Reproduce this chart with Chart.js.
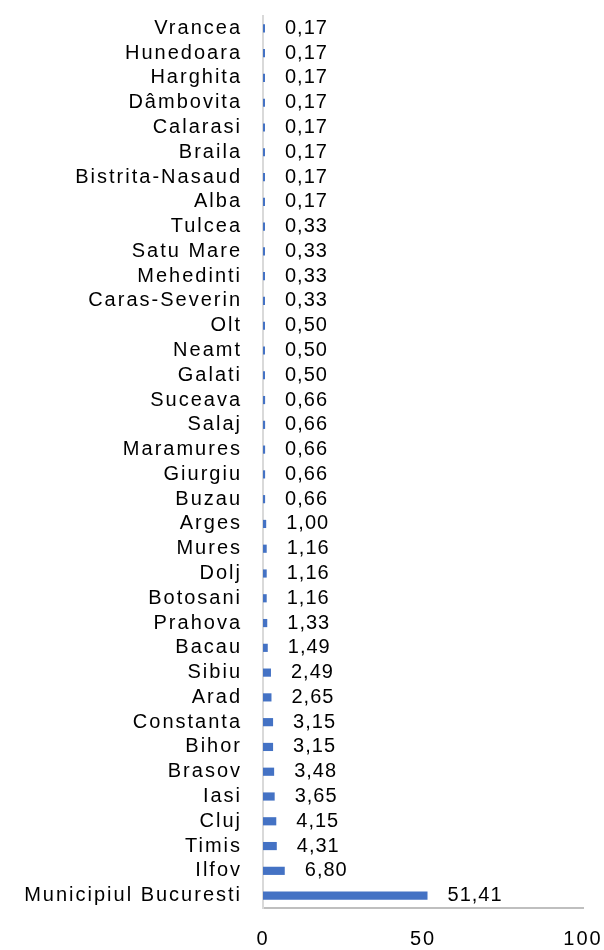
<!DOCTYPE html>
<html>
<head>
<meta charset="utf-8">
<script src="https://cdn.jsdelivr.net/npm/chart.js@4"></script>
<style>
  html, body { margin: 0; padding: 0; background: #fff; }
  #wrap { width: 604px; height: 950px; position: relative; }
</style>
</head>
<body>
<div id="wrap"><canvas id="barChart"></canvas></div>
<script>
const ctx = document.getElementById('barChart').getContext('2d');

const judete = [
    'Vrancea', 'Hunedoara', 'Harghita', 'Dâmbovita', 'Calarasi', 'Braila',
    'Bistrita-Nasaud', 'Alba', 'Tulcea', 'Satu Mare', 'Mehedinti', 'Caras-Severin',
    'Olt', 'Neamt', 'Galati', 'Suceava', 'Salaj', 'Maramures', 'Giurgiu', 'Buzau',
    'Arges', 'Mures', 'Dolj', 'Botosani', 'Prahova', 'Bacau', 'Sibiu', 'Arad',
    'Constanta', 'Bihor', 'Brasov', 'Iasi', 'Cluj', 'Timis', 'Ilfov',
    'Municipiul Bucuresti'
];
const procente = [
    0.17, 0.17, 0.17, 0.17, 0.17, 0.17,
    0.17, 0.17, 0.33, 0.33, 0.33, 0.33,
    0.50, 0.50, 0.50, 0.66, 0.66, 0.66, 0.66, 0.66,
    1.00, 1.16, 1.16, 1.16, 1.33, 1.49, 2.49, 2.65,
    3.15, 3.15, 3.48, 3.65, 4.15, 4.31, 6.80,
    51.41
];
const xTicks = [0, 50, 100];

const FAMILY = "'Liberation Sans', Arial, sans-serif";

// textul din grafic e ceva mai rasfirat
const spacing = {
    id: 'spacing',
    beforeUpdate(chart) { chart.ctx.letterSpacing = '2px'; },
    beforeDraw(chart) { chart.ctx.letterSpacing = '2px'; }
};

// etichete cu valoarea, la capatul fiecarei bare
const valueLabels = {
    id: 'valueLabels',
    afterDatasetsDraw(chart) {
        const c = chart.ctx;
        const meta = chart.getDatasetMeta(0);
        c.save();
        c.letterSpacing = '1px';
        c.font = '20px ' + FAMILY;
        c.fillStyle = '#000';
        c.textAlign = 'left';
        c.textBaseline = 'middle';
        meta.data.forEach((bar, i) => {
            const txt = procente[i].toFixed(2).replace('.', ',');
            c.fillText(txt, bar.x + 20, bar.y);
        });
        c.restore();
    }
};

new Chart(ctx, {
    type: 'bar',
    data: {
        labels: judete,
        datasets: [{
            data: procente,
            backgroundColor: '#4472C4',
            borderWidth: 0,
            barPercentage: 0.33,
            categoryPercentage: 1,
            minBarLength: 2
        }]
    },
    options: {
        indexAxis: 'y',
        responsive: true,
        maintainAspectRatio: false,
        animation: false,
        layout: { padding: { top: 16, right: 21, bottom: 0, left: 0 } },
        plugins: {
            legend: { display: false },
            tooltip: { enabled: false }
        },
        scales: {
            x: {
                min: 0,
                max: 100,
                afterBuildTicks(scale) {
                    scale.ticks = xTicks.map(v => ({ value: v }));
                },
                grid: { display: false, drawTicks: false },
                border: { display: true, color: '#bfbfbf', width: 2 },
                ticks: {
                    color: '#000',
                    font: { family: FAMILY, size: 20, lineHeight: 1 },
                    padding: 21,
                    maxRotation: 0
                },
                afterFit(scale) {
                    scale.height = 42;
                    scale.paddingLeft = 0;
                    scale.paddingRight = 0;
                }
            },
            y: {
                grid: { display: false, drawTicks: false },
                border: { display: true, color: '#d9d9d9', width: 2 },
                ticks: {
                    color: '#000',
                    font: { family: FAMILY, size: 20 },
                    padding: 21,
                    autoSkip: false
                },
                afterFit(scale) {
                    scale.width = 263;
                    scale.paddingTop = 0;
                    scale.paddingBottom = 0;
                }
            }
        }
    },
    plugins: [spacing, valueLabels]
});
</script>
</body>
</html>
